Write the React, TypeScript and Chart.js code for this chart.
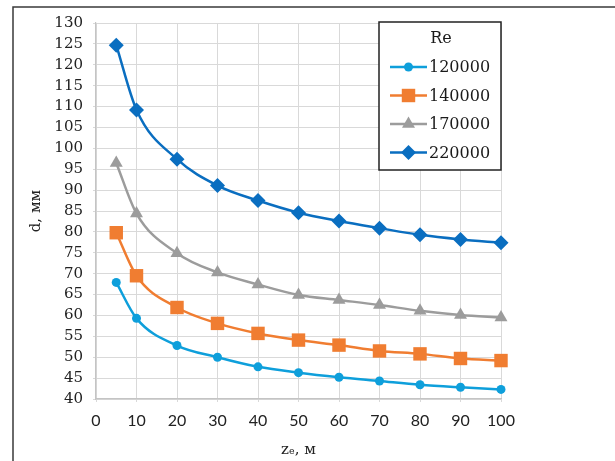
import React, { useEffect, useRef } from 'react';
import { Chart, registerables } from 'chart.js';

Chart.register(...registerables);

// ---- data ----
const zValues = [5, 10, 20, 30, 40, 50, 60, 70, 80, 90, 100];
const reLabels = ['120000', '140000', '170000', '220000'];
const d120000 = [67.9, 59.3, 52.8, 50.0, 47.7, 46.3, 45.2, 44.3, 43.4, 42.8, 42.3];
const d140000 = [79.8, 69.5, 61.9, 58.1, 55.7, 54.1, 52.9, 51.5, 50.8, 49.7, 49.2];
const d170000 = [96.5, 84.4, 74.9, 70.3, 67.4, 64.9, 63.7, 62.5, 61.1, 60.1, 59.5];
const d220000 = [124.7, 109.2, 97.4, 91.1, 87.5, 84.6, 82.6, 80.9, 79.3, 78.2, 77.4];
const xTickMin = 0, xTickMax = 100, xTickStep = 10;
const yTickMin = 40, yTickMax = 130, yTickStep = 5;
const legendTitle = 'Re';
const xTitle = 'zₑ, м';
const yTitle = 'd, мм';

const seriesValues = [d120000, d140000, d170000, d220000];
const seriesColors = ['#0E9FDB', '#F07D31', '#9C9C9C', '#0A6EC0'];
const seriesStyles = ['circle', 'rect', 'triangle', 'rectRot'];
const seriesRadius = [4.5, 9.5, 7.5, 7.5];

const SERIF = '"DejaVu Serif", "Liberation Serif", serif';
const SANS = 'Lato, "Liberation Sans", sans-serif';

function drawMarker(ctx: CanvasRenderingContext2D, style: string, x: number, y: number, r: number) {
  ctx.beginPath();
  if (style === 'circle') {
    ctx.arc(x, y, r, 0, Math.PI * 2);
  } else if (style === 'rect') {
    const s = Math.SQRT1_2 * r;
    ctx.rect(x - s, y - s, 2 * s, 2 * s);
  } else if (style === 'triangle') {
    let rad = 0;
    ctx.moveTo(x + Math.sin(rad) * r, y - Math.cos(rad) * r);
    rad += (2 * Math.PI) / 3;
    ctx.lineTo(x + Math.sin(rad) * r, y - Math.cos(rad) * r);
    rad += (2 * Math.PI) / 3;
    ctx.lineTo(x + Math.sin(rad) * r, y - Math.cos(rad) * r);
    ctx.closePath();
  } else {
    ctx.moveTo(x, y - r);
    ctx.lineTo(x + r, y);
    ctx.lineTo(x, y + r);
    ctx.lineTo(x - r, y);
    ctx.closePath();
  }
  ctx.fill();
}

const framePlugin = {
  id: 'frame',
  beforeDraw(chart: any) {
    const ctx = chart.ctx as CanvasRenderingContext2D;
    ctx.save();
    ctx.strokeStyle = '#3a3a3a';
    ctx.lineWidth = 1.5;
    ctx.beginPath();
    ctx.moveTo(13, chart.height);
    ctx.lineTo(13, 7);
    ctx.lineTo(chart.width, 7);
    ctx.stroke();
    ctx.restore();
  },
};

const boxLegendPlugin = {
  id: 'boxLegend',
  afterDraw(chart: any) {
    const ctx = chart.ctx as CanvasRenderingContext2D;
    const area = chart.chartArea;
    const w = 122, h = 148;
    const x0 = area.right - w;
    const y0 = area.top - 1;
    ctx.save();
    ctx.fillStyle = '#ffffff';
    ctx.fillRect(x0, y0, w, h);
    ctx.strokeStyle = '#222222';
    ctx.lineWidth = 1.5;
    ctx.strokeRect(x0, y0, w, h);
    ctx.fillStyle = '#1a1a1a';
    ctx.font = `16px ${SERIF}`;
    ctx.textAlign = 'center';
    ctx.textBaseline = 'middle';
    ctx.fillText(legendTitle, x0 + 62, y0 + 17);
    chart.data.datasets.forEach((ds: any, i: number) => {
      const cy = y0 + 45 + i * 28.5;
      const lx0 = x0 + 11, lx1 = x0 + 48;
      ctx.strokeStyle = ds.borderColor;
      ctx.lineWidth = 2.5;
      ctx.beginPath();
      ctx.moveTo(lx0, cy);
      ctx.lineTo(lx1, cy);
      ctx.stroke();
      ctx.fillStyle = ds.pointBackgroundColor;
      drawMarker(ctx, ds.pointStyle, (lx0 + lx1) / 2, cy, ds.pointRadius);
      ctx.fillStyle = '#1a1a1a';
      ctx.textAlign = 'left';
      ctx.fillText(ds.label, x0 + 50, cy + 1);
    });
    ctx.restore();
  },
};

export default function App() {
  const ref = useRef<HTMLCanvasElement | null>(null);
  useEffect(() => {
    if (!ref.current) return;
    const datasets = reLabels.map((label, i) => ({
      label,
      data: zValues.map((z, j) => ({ x: z, y: seriesValues[i][j] })),
      borderColor: seriesColors[i],
      backgroundColor: seriesColors[i],
      pointBackgroundColor: seriesColors[i],
      pointBorderColor: seriesColors[i],
      pointBorderWidth: 0,
      pointStyle: seriesStyles[i],
      pointRadius: seriesRadius[i],
      borderWidth: 2.5,
      cubicInterpolationMode: 'monotone',
      clip: false,
    }));
    const chart = new Chart(ref.current, {
      type: 'line',
      data: { datasets },
      plugins: [framePlugin, boxLegendPlugin],
      options: {
        responsive: false,
        animation: false,
        devicePixelRatio: 1,
        layout: { padding: { left: 0, top: 23, right: 114, bottom: 2 } },
        plugins: { legend: { display: false }, tooltip: { enabled: false } },
        scales: {
          x: {
            type: 'linear',
            min: xTickMin,
            max: xTickMax,
            ticks: { stepSize: xTickStep, autoSkip: false, maxRotation: 0, color: '#222', font: { family: SANS, size: 16 }, padding: 9 },
            grid: { color: '#D9D9D9', lineWidth: 1, tickLength: 3 },
            border: { color: '#C4C4C4', width: 1.2 },
            title: { display: true, text: xTitle, color: '#222', font: { family: SERIF, size: 15 }, padding: 0 },
            afterFit: (s: any) => { s.height = 60; },
          },
          y: {
            type: 'linear',
            min: yTickMin,
            max: yTickMax,
            ticks: { stepSize: yTickStep, autoSkip: false, color: '#222', font: { family: SERIF, size: 15, lineHeight: 1 }, padding: 10 },
            grid: { color: '#D9D9D9', lineWidth: 1, tickLength: 3 },
            border: { color: '#C4C4C4', width: 1.2 },
            title: { display: true, text: yTitle, color: '#222', font: { family: SERIF, size: 15 }, padding: { top: 27, bottom: 0 } },
            afterFit: (s: any) => { s.width = 96; },
          },
        },
      } as any,
    });
    return () => chart.destroy();
  }, []);
  return (
    <div style={{ position: 'absolute', left: 0, top: 0, width: 615, height: 461, background: '#fff' }}>
      <canvas ref={ref} width={615} height={461} style={{ width: 615, height: 461, display: 'block' }} />
    </div>
  );
}
